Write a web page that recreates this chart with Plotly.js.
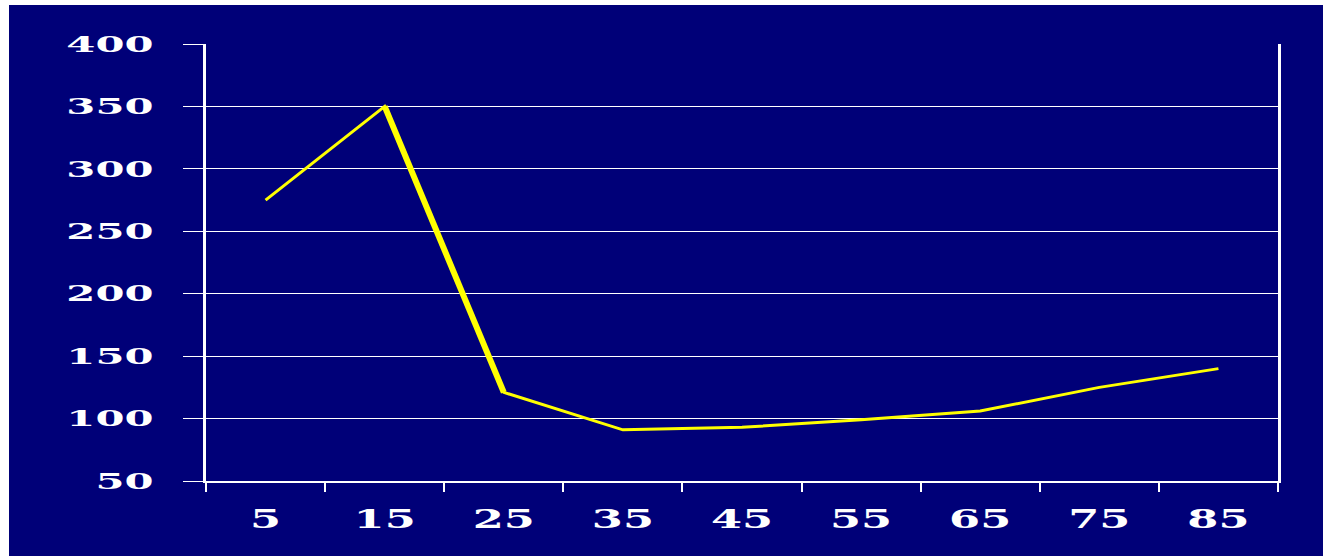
<!DOCTYPE html>
<html>
<head>
<meta charset="utf-8">
<script src="https://cdn.plot.ly/plotly-3.0.1.min.js"></script>
<style>
html,body{margin:0;padding:0;background:#ffffff;}
#chart{position:absolute;left:9px;top:5px;width:1314px;height:551px;}
</style>
</head>
<body>
<div id="chart"></div>
<script>
// Data
const categories = ["5","15","25","35","45","55","65","75","85"];
const values = [275, 350, 121, 91, 93, 99, 106, 125, 140];
const thickIdx = [1, 2]; // segment drawn bolder (15 -> 25)
const yTickVals = [50,100,150,200,250,300,350,400];

const navy = "#000078";
const yellow = "#ffff00";

const traces = [
  {x: categories, y: values, type: "scatter", mode: "lines",
   line: {color: yellow, width: 3}, hoverinfo: "skip"},
  {x: thickIdx.map(i => categories[i]), y: thickIdx.map(i => values[i]),
   type: "scatter", mode: "lines", line: {color: yellow, width: 6}, hoverinfo: "skip"}
];

const layout = {
  width: 1314, height: 551,
  paper_bgcolor: navy, plot_bgcolor: navy,
  margin: {l: 197, r: 45, t: 39, b: 75},
  showlegend: false,
  xaxis: {
    type: "category", categoryorder: "array", categoryarray: categories,
    range: [-0.5, 8.5],
    tickson: "boundaries", ticks: "outside", ticklen: 9, tickwidth: 2, tickcolor: "#ffffff",
    showgrid: false, zeroline: false,
    showline: true, linecolor: "#ffffff", linewidth: 2,
    tickfont: {family: "DejaVu Serif", size: 26, color: "#ffffff", weight: "bold"},
    ticklabelstandoff: 14
  },
  yaxis: {
    range: [50, 400], tickvals: yTickVals, ticktext: yTickVals.map(String),
    ticks: "outside", ticklen: 20, tickwidth: 1, tickcolor: "#ffffff",
    showgrid: true, gridcolor: "#ffffff", gridwidth: 1, zeroline: false,
    showline: true, linecolor: "#ffffff", linewidth: 3, mirror: true,
    tickfont: {family: "DejaVu Serif", size: 22, color: "#ffffff", weight: "bold"},
    ticklabelstandoff: 25
  }
};

Plotly.newPlot("chart", traces, layout, {staticPlot: true, displayModeBar: false}).then(function(gd){
  function stretch(sel, s){
    gd.querySelectorAll(sel).forEach(function(t){
      const x = parseFloat(t.getAttribute("x")) || 0;
      const tr = t.getAttribute("transform") || "";
      t.setAttribute("transform", tr + " translate(" + x + ",0) scale(" + s + ",1) translate(" + (-x) + ",0)");
    });
  }
  stretch(".ytick text", 1.9);
  stretch(".xtick text", 1.72);
});
</script>
</body>
</html>
